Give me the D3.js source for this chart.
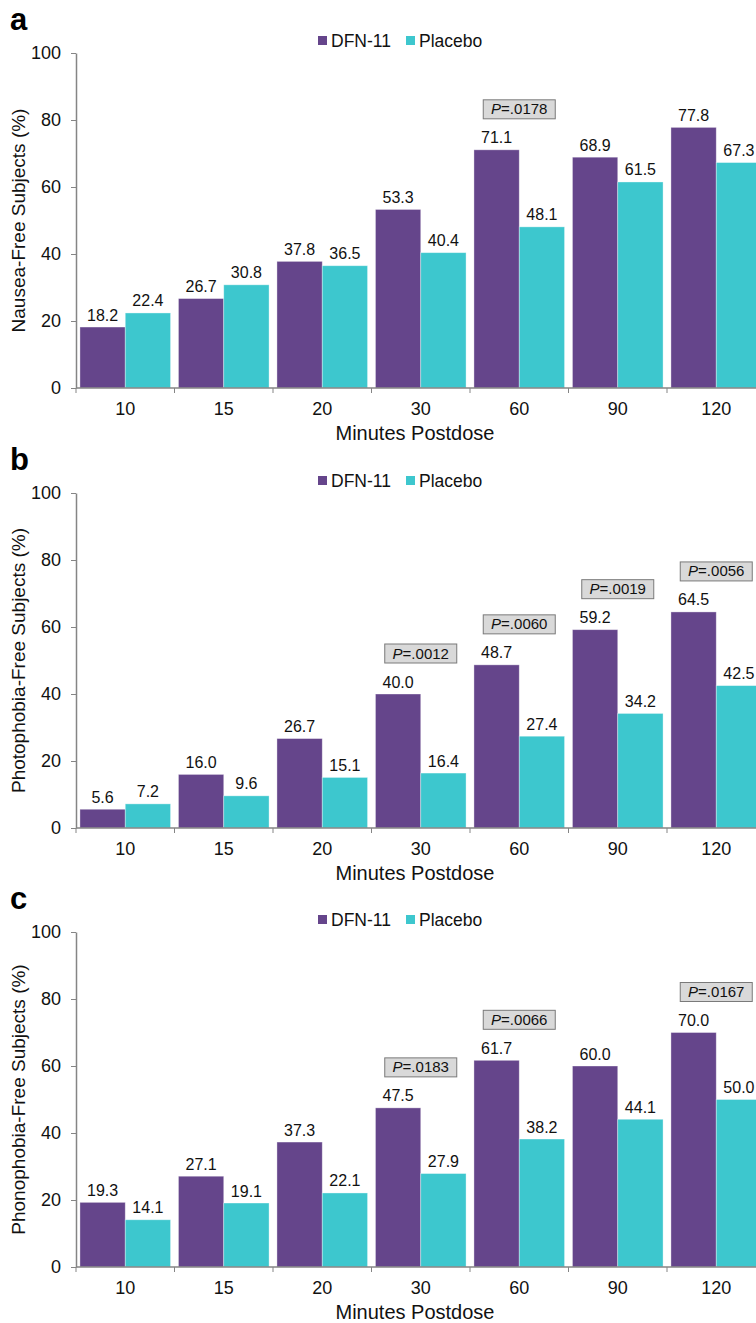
<!DOCTYPE html>
<html>
<head>
<meta charset="utf-8">
<script src="https://cdn.jsdelivr.net/npm/d3@7"></script>
<style>
  body { margin: 0; background: #fff; }
  svg { display: block; font-family: "Liberation Sans", Arial, sans-serif; }
</style>
</head>
<body>
<svg id="chart" width="756" height="1323"></svg>
<script>
const minutes = ["10", "15", "20", "30", "60", "90", "120"];
const seriesNames = ["DFN-11", "Placebo"];
const yTicks = [0, 20, 40, 60, 80, 100];

const nauseaDfn = [18.2, 26.7, 37.8, 53.3, 71.1, 68.9, 77.8];
const nauseaPlacebo = [22.4, 30.8, 36.5, 40.4, 48.1, 61.5, 67.3];
const nauseaP = { "60": ".0178" };

const photoDfn = [5.6, 16.0, 26.7, 40.0, 48.7, 59.2, 64.5];
const photoPlacebo = [7.2, 9.6, 15.1, 16.4, 27.4, 34.2, 42.5];
const photoP = { "30": ".0012", "60": ".0060", "90": ".0019", "120": ".0056" };

const phonoDfn = [19.3, 27.1, 37.3, 47.5, 61.7, 60.0, 70.0];
const phonoPlacebo = [14.1, 19.1, 22.1, 27.9, 38.2, 44.1, 50.0];
const phonoP = { "30": ".0183", "60": ".0066", "120": ".0167" };

const panels = [
  { letter: "a", top: 53, yLabel: "Nausea-Free Subjects (%)", dfn: nauseaDfn, pla: nauseaPlacebo, p: nauseaP },
  { letter: "b", top: 493, yLabel: "Photophobia-Free Subjects (%)", dfn: photoDfn, pla: photoPlacebo, p: photoP },
  { letter: "c", top: 932, yLabel: "Phonophobia-Free Subjects (%)", dfn: phonoDfn, pla: phonoPlacebo, p: phonoP }
];

const colors = { "DFN-11": "#65458b", "Placebo": "#3dc7ce" };
const axisColor = "#858585";
const plotH = 335;
const left = 76;
const right = 765.5;

const svg = d3.select("#chart");

const x0 = d3.scaleBand()
  .domain(minutes)
  .range([left, right])
  .paddingInner(0.08)
  .paddingOuter(0.04);

const x1 = d3.scaleBand()
  .domain(seriesNames)
  .range([0, x0.bandwidth()]);

const step = x0.step();

panels.forEach(panel => {
  const g = svg.append("g").attr("transform", `translate(0,${panel.top})`);

  const y = d3.scaleLinear().domain([0, 100]).range([plotH, 0]);

  // panel letter
  g.append("text")
    .attr("x", 10)
    .attr("y", -23)
    .style("font-size", "31px")
    .style("font-weight", "bold")
    .text(panel.letter);

  // legend
  const legend = g.append("g").attr("transform", "translate(318,-12)");
  const legendX = [0, 88];
  seriesNames.forEach((s, i) => {
    legend.append("rect")
      .attr("x", legendX[i])
      .attr("y", -5)
      .attr("width", 9)
      .attr("height", 9)
      .attr("fill", colors[s]);
    legend.append("text")
      .attr("x", legendX[i] + 13)
      .attr("y", 6)
      .style("font-size", "17.5px")
      .attr("fill", "#111")
      .text(s);
  });

  // bars
  const rows = minutes.map((m, i) => ({ m, vals: [panel.dfn[i], panel.pla[i]] }));
  const groups = g.selectAll("g.cat")
    .data(rows)
    .enter()
    .append("g")
    .attr("class", "cat")
    .attr("transform", d => `translate(${x0(d.m)},0)`);

  groups.selectAll("rect")
    .data(d => seriesNames.map((s, i) => ({ s, v: d.vals[i] })))
    .enter()
    .append("rect")
    .attr("x", d => x1(d.s))
    .attr("width", x1.bandwidth())
    .attr("y", d => y(d.v))
    .attr("height", d => y(0) - y(d.v))
    .attr("fill", d => colors[d.s])
    .attr("stroke", "rgba(255,255,255,0.45)")
    .attr("stroke-width", 0.8);

  groups.selectAll("text.val")
    .data(d => seriesNames.map((s, i) => ({ s, v: d.vals[i] })))
    .enter()
    .append("text")
    .attr("class", "val")
    .attr("x", d => x1(d.s) + x1.bandwidth() / 2)
    .attr("y", d => y(d.v) - 6.5)
    .attr("text-anchor", "middle")
    .style("font-size", "16px")
    .attr("fill", "#111")
    .text(d => d.v.toFixed(1));

  // P-value boxes
  const pRows = rows.filter(d => panel.p[d.m]);
  const pBox = g.selectAll("g.pbox")
    .data(pRows)
    .enter()
    .append("g")
    .attr("class", "pbox")
    .attr("transform", d => `translate(${x0(d.m) + x0.bandwidth() / 2},${y(d3.max(d.vals)) - 31})`);

  pBox.append("rect")
    .attr("x", -36)
    .attr("y", -19)
    .attr("width", 72)
    .attr("height", 19)
    .attr("fill", "#d9d9d9")
    .attr("stroke", "#7a7a7a")
    .attr("stroke-width", 1);

  const pText = pBox.append("text")
    .attr("x", 0)
    .attr("y", -4.5)
    .attr("text-anchor", "middle")
    .style("font-size", "15px")
    .attr("fill", "#111");
  pText.append("tspan").style("font-style", "italic").text("P");
  pText.append("tspan").text(d => "=" + panel.p[d.m]);

  // y axis
  const yAxis = d3.axisLeft(y)
    .tickValues(yTicks)
    .tickSize(5)
    .tickSizeOuter(0)
    .tickPadding(10);
  const ya = g.append("g").attr("transform", `translate(${left},0)`).call(yAxis);
  ya.select(".domain").attr("stroke", axisColor).attr("stroke-width", 1.5);
  ya.selectAll(".tick line").attr("stroke", axisColor);
  ya.selectAll(".tick text").style("font-size", "18px").attr("fill", "#111");

  // x axis: line plus ticks at band boundaries, labels centred in bands
  const xa = g.append("g").attr("transform", `translate(0,${plotH})`);
  xa.append("line")
    .attr("x1", left)
    .attr("x2", right)
    .attr("stroke", axisColor)
    .attr("stroke-width", 1.5);
  const bounds = minutes.map(m => x0(m) - step * x0.paddingOuter()).concat([right]);
  xa.selectAll("line.tk")
    .data(bounds)
    .enter()
    .append("line")
    .attr("class", "tk")
    .attr("x1", d => d)
    .attr("x2", d => d)
    .attr("y1", 0)
    .attr("y2", 5)
    .attr("stroke", axisColor);
  xa.selectAll("text.tl")
    .data(minutes)
    .enter()
    .append("text")
    .attr("class", "tl")
    .attr("x", d => x0(d) + x0.bandwidth() / 2)
    .attr("y", 27)
    .attr("text-anchor", "middle")
    .style("font-size", "18px")
    .attr("fill", "#111")
    .text(d => d);

  xa.append("text")
    .attr("x", 415)
    .attr("y", 52)
    .attr("text-anchor", "middle")
    .style("font-size", "20px")
    .attr("fill", "#111")
    .text("Minutes Postdose");

  // y axis title
  g.append("text")
    .attr("transform", `translate(25,${plotH / 2}) rotate(-90)`)
    .attr("text-anchor", "middle")
    .style("font-size", "19px")
    .attr("fill", "#111")
    .text(panel.yLabel);
});
</script>
</body>
</html>
